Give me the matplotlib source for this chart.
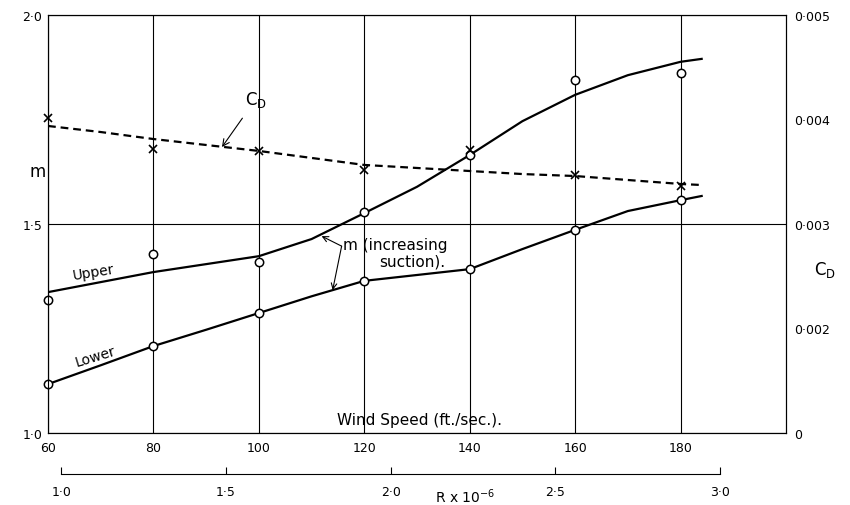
import matplotlib.pyplot as plt

# wind speed (ft/sec) at the measured stations
speed = [60, 80, 100, 120, 140, 160, 180]
upper_pts = [1.318, 1.428, 1.409, 1.529, 1.665, 1.845, 1.861]
lower_pts = [1.117, 1.208, 1.287, 1.364, 1.392, 1.486, 1.557]
cd_pts = [0.00401, 0.00372, 0.00370, 0.00352, 0.00371, 0.00347, 0.00336]

# faired curves
curve_speed = [60, 70, 80, 90, 100, 110, 120, 130, 140, 150, 160, 170, 180, 184]
upper_curve = [1.337, 1.361, 1.385, 1.404, 1.423, 1.464, 1.526, 1.589, 1.665,
               1.746, 1.809, 1.856, 1.888, 1.895]
lower_curve = [1.117, 1.162, 1.208, 1.247, 1.287, 1.327, 1.364, 1.378, 1.392,
               1.440, 1.486, 1.531, 1.557, 1.567]
cd_curve = [0.003938, 0.003880, 0.003813, 0.003756, 0.003699, 0.003632, 0.003565,
            0.003536, 0.003507, 0.003478, 0.003459, 0.003421, 0.003383, 0.003373]

x_labels = ['60', '80', '100', '120', '140', '160', '180']
m_ticks = [1.0, 1.5, 2.0]
m_labels = ['1·0', '1·5', '2·0']
cd_ticks = [0.001, 0.002, 0.003, 0.004, 0.005]
cd_labels = ['0', '0·002', '0·003', '0·004', '0·005']
r_ticks = [1.0, 1.5, 2.0, 2.5, 3.0]
r_labels = ['1·0', '1·5', '2·0', '2·5', '3·0']

fig = plt.figure(figsize=(8.5, 5.06), dpi=100)
ax = fig.add_axes([0.0565, 0.1423, 0.8682, 0.8261])

ax.set_xlim(60, 200)
ax.set_ylim(1.0, 2.0)
ax.set_xticks(speed)
ax.set_xticklabels(x_labels, fontsize=9)
ax.set_yticks(m_ticks)
ax.set_yticklabels(m_labels, fontsize=9)
ax.tick_params(axis='both', length=0)
ax.tick_params(axis='x', pad=6)
ax.tick_params(axis='y', pad=4)
ax.grid(True, color='black', lw=0.8)
for s in ax.spines.values():
    s.set_linewidth(0.8)

ax.plot(curve_speed, upper_curve, color='black', lw=1.6, zorder=3)
ax.plot(curve_speed, lower_curve, color='black', lw=1.6, zorder=3)
ax.plot(speed, upper_pts, 'o', ms=6, mfc='white', mec='black', mew=1.1, zorder=4, clip_on=False)
ax.plot(speed, lower_pts, 'o', ms=6, mfc='white', mec='black', mew=1.1, zorder=4, clip_on=False)

# drag coefficient on the right-hand scale
ax2 = ax.twinx()
ax2.set_ylim(0.001, 0.005)
ax2.set_yticks(cd_ticks)
ax2.set_yticklabels(cd_labels, fontsize=9)
ax2.tick_params(axis='y', length=0, pad=6)
for s in ax2.spines.values():
    s.set_linewidth(0.8)
ax2.plot(curve_speed, cd_curve, color='black', lw=1.6, dashes=(3.5, 2.2), zorder=3)
ax2.plot(speed, cd_pts, 'x', ms=6, mec='black', mew=1.2, zorder=4, clip_on=False)

# Reynolds number scale underneath
sec = ax.secondary_xaxis(-0.098, functions=(lambda v: v / 62.5, lambda r: r * 62.5))
sec.set_xticks(r_ticks)
sec.set_xticklabels(r_labels, fontsize=9)
sec.tick_params(direction='in', length=5, width=0.8, pad=8)
sec.spines['bottom'].set_bounds(1.0, 3.0)
sec.spines['bottom'].set_linewidth(0.8)
fig.text(465 / 850, 1 - 497 / 506, 'R x 10$^{-6}$', fontsize=10, ha='center', va='center')

# labels and notes
ax.text(-0.0136, 0.627, 'm', transform=ax.transAxes, fontsize=12, ha='center', va='center')
ax.text(1.053, 0.392, r'C$_\mathrm{D}$', transform=ax.transAxes, fontsize=12,
        ha='center', va='center')
ax.text(68.7, 1.385, 'Upper', fontsize=10, rotation=9, ha='center', va='center')
ax.text(68.9, 1.184, 'Lower', fontsize=10, rotation=17, ha='center', va='center')
ax.text(115.9, 1.452, 'm (increasing', fontsize=11, ha='left', va='center')
ax.text(122.9, 1.411, 'suction).', fontsize=11, ha='left', va='center')
ax.text(130.5, 1.033, 'Wind Speed (ft./sec.).', fontsize=11, ha='center', va='center')

arrow = dict(arrowstyle='->', color='black', lw=0.8, shrinkA=0, shrinkB=0)
ax.annotate(r'C$_\mathrm{D}$', xy=(93, 1.684), xytext=(99.5, 1.80), fontsize=12,
            ha='center', va='center', arrowprops=dict(arrow, shrinkA=6))
ax.annotate('', xy=(111.9, 1.471), xytext=(115.7, 1.447), arrowprops=arrow)
ax.annotate('', xy=(114.0, 1.342), xytext=(115.7, 1.447), arrowprops=arrow)

fig.savefig('out.png', dpi=100, facecolor='white')
